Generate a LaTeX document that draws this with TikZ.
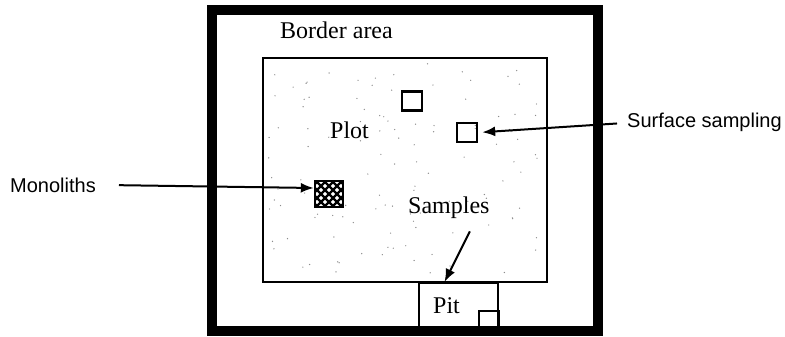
\documentclass[tikz,border=0pt]{standalone}
\usepackage{fontspec}
\setmainfont{Liberation Serif}
\newfontfamily\calloutfont{Liberation Sans}
\usetikzlibrary{arrows.meta}
\usetikzlibrary{math}

\tikzset{
plotbox/.style={draw, line width=2.4pt, minimum width=20pt, minimum height=19pt, inner sep=0pt},
fieldtext/.style={font=\fontsize{24}{28}\selectfont, inner sep=0pt, anchor=base west},
callout/.style={font=\calloutfont\fontsize{20}{24}\selectfont, inner sep=0pt, anchor=base west},
pointer/.style={-{Latex[length=13pt,width=10pt]}, line width=2pt}
}

\begin{document}
\begin{tikzpicture}[x=1pt,y=-1pt]
\useasboundingbox (0,0) rectangle (785,337);
\tikzmath{
\W=10;
}

\pgfmathsetseed{31}
\foreach \i in {1,...,120}{
\pgfmathsetmacro\dx{268+274*rnd}
\pgfmathsetmacro\dy{63+214*rnd}
\fill[black!45] (\dx,\dy) circle (0.7pt);
}

\draw[line width=2pt] (263,58) rectangle (547,282);
\node[draw, line width=2pt, minimum width=79pt, minimum height=45pt, inner sep=0pt, anchor=north west] (pit) at (418,282) {};
\draw[line width=\W pt] (212,10) rectangle (598,331);

\node[plotbox] (sqtop) at (412,101) {};
\node[plotbox] (sqsurf) at (467,132.5) {};
\node[plotbox, minimum height=17pt] (sqpit) at (489,319.5) {};
\node[plotbox, minimum width=28pt, minimum height=26pt] (sqmono) at (329,194) {};
\begin{scope}
\clip (315,181) rectangle (343,207);
\foreach \c in {-48,-40,...,48}{
\draw[line width=2.2pt] (329+\c-20,174) -- (329+\c+20,214);
\draw[line width=2.2pt] (329+\c-20,214) -- (329+\c+20,174);
}
\end{scope}

\node[fieldtext] (border) at (280,39) {Border area};
\node[fieldtext] (plot) at (330,138) {Plot};
\node[fieldtext] (samp) at (408,213) {Samples};
\node[fieldtext] (pitlabel) at (433,313) {Pit};
\node[callout] (surf) at (627,128) {Surface sampling};
\node[callout] (mono) at (10,192) {Monoliths};

\draw[pointer, shorten <=10pt, shorten >=4pt] (surf.west) -- (sqsurf.east);
\draw[pointer, shorten <=23pt] (mono.east) -- ([yshift=6pt]sqmono.west);
\draw[pointer] ([shift={(21pt,-13pt)}]samp.south) -- ([xshift=-14pt]pit.north);

\end{tikzpicture}
\end{document}
